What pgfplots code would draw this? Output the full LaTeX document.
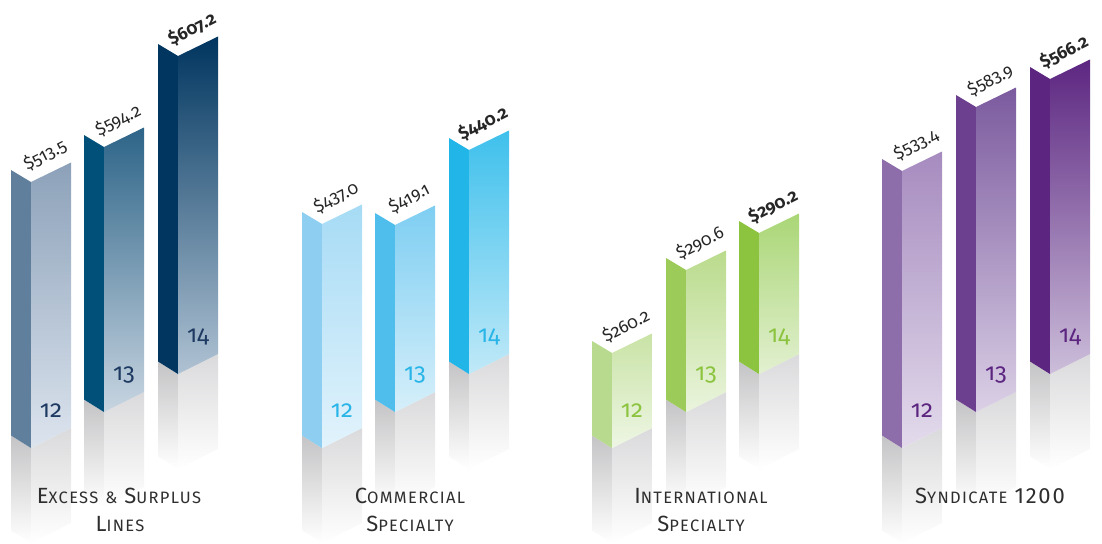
\documentclass[border=0pt]{standalone}
\usepackage{pgfplots}
\pgfplotsset{compat=1.18}
\usepackage{fontspec}
\setmainfont{Fira Sans}[Numbers=OldStyle]
\definecolor{EL1}{HTML}{5F7F9D}\definecolor{ET1}{HTML}{8CA1B9}\definecolor{EB1}{HTML}{DCE4EE}
\definecolor{EL2}{HTML}{00507A}\definecolor{ET2}{HTML}{2D6488}\definecolor{EB2}{HTML}{C8D5E1}
\definecolor{EL3}{HTML}{00365F}\definecolor{ET3}{HTML}{00355F}\definecolor{EB3}{HTML}{AFC2D3}
\definecolor{Eyear}{HTML}{1E3A62}
\definecolor{CL1}{HTML}{8DCEF1}\definecolor{CT1}{HTML}{A6DBF5}\definecolor{CB1}{HTML}{E2F3FC}
\definecolor{CL2}{HTML}{50BEEC}\definecolor{CT2}{HTML}{7ECEF2}\definecolor{CB2}{HTML}{D6EFFA}
\definecolor{CL3}{HTML}{22B5E8}\definecolor{CT3}{HTML}{3EC0EC}\definecolor{CB3}{HTML}{C0E9F8}
\definecolor{Cyear}{HTML}{2AB5E8}
\definecolor{IL1}{HTML}{B8DA8E}\definecolor{IT1}{HTML}{C9E3A6}\definecolor{IB1}{HTML}{EEF6E4}
\definecolor{IL2}{HTML}{9CCB5A}\definecolor{IT2}{HTML}{BADB8C}\definecolor{IB2}{HTML}{EAF4DD}
\definecolor{IL3}{HTML}{8CC43F}\definecolor{IT3}{HTML}{AAD676}\definecolor{IB3}{HTML}{E2F0D0}
\definecolor{Iyear}{HTML}{8CC43F}
\definecolor{SL1}{HTML}{8E6EAA}\definecolor{ST1}{HTML}{A68BBF}\definecolor{SB1}{HTML}{E3DBEC}
\definecolor{SL2}{HTML}{6C3F8F}\definecolor{ST2}{HTML}{7B5A9E}\definecolor{SB2}{HTML}{DBD0E6}
\definecolor{SL3}{HTML}{5B2580}\definecolor{ST3}{HTML}{5C2681}\definecolor{SB3}{HTML}{CCBEDA}
\definecolor{Syear}{HTML}{5B2580}
\definecolor{reflL}{HTML}{C4C4C6}\definecolor{reflF}{HTML}{DADADC}
\definecolor{cattext}{HTML}{2E2E2E}
% #1 cx (front-left x), #2 bottom y (pixels)
\newcommand\reflection[2]{%
 \pgfmathsetmacro\xa{#1-20}\pgfmathsetmacro\xc{#1+40}%
 \pgfmathsetmacro\ba{#2-12.5}\pgfmathsetmacro\bc{#2-20}%
 \pgfmathsetmacro\ea{#2-12.5+95}\pgfmathsetmacro\eb{#2+95}\pgfmathsetmacro\ec{#2-20+95}%
 \edef\tmp{\noexpand\addplot[draw=none,top color=reflL,bottom color=white,forget plot] coordinates {(\xa,\ba) (#1,#2) (#1,\eb) (\xa,\ea)};
 \noexpand\addplot[draw=none,top color=reflF,bottom color=white,forget plot] coordinates {(#1,#2) (\xc,\bc) (\xc,\ec) (#1,\eb)};}\tmp}
% #1 cx, #2 top y, #3 bottom y, #4 left colour, #5 front top colour, #6 front bottom colour
\newcommand\drawbar[6]{%
 \pgfmathsetmacro\xa{#1-20}\pgfmathsetmacro\xc{#1+40}%
 \pgfmathsetmacro\ta{#2-12}\pgfmathsetmacro\tc{#2-19.5}%
 \pgfmathsetmacro\ba{#3-12.5}\pgfmathsetmacro\bc{#3-20}%
 \edef\tmp{\noexpand\addplot[draw=none,fill=#4,forget plot] coordinates {(\xa,\ta) (#1,#2) (#1,#3) (\xa,\ba)};
 \noexpand\addplot[draw=none,top color=#5,bottom color=#6,forget plot] coordinates {(#1,#2) (\xc,\tc) (\xc,\bc) (#1,#3)};}\tmp}
% #1 cx, #2 top y, #3 bottom y, #4 value text, #5 year, #6 year colour
\newcommand\barlabels[6]{%
 \node[rotate=27,inner sep=0pt,font=\fontsize{17.5}{17.5}\selectfont,text=black!85] at (axis cs:{#1+14},{#2-27}) {#4};
 \node[inner sep=0pt,font=\fontsize{24}{24}\selectfont,text=#6] at (axis cs:{#1+20},{#3-37}) {#5};}
\newcommand\SC[2]{{\fontsize{22}{22}\selectfont #1}{\fontsize{16.5}{16.5}\selectfont #2}}
\newcommand\gap{\hspace{7pt}}
\begin{document}
\begin{tikzpicture}
\begin{axis}[width=1102pt,height=539pt,scale only axis,
  xmin=0,xmax=1102,ymin=0,ymax=539,y dir=reverse,hide axis,clip=false]
\addplot[draw=none,forget plot] coordinates {(0,0) (1102,539)};
% reflections
\reflection{31}{448}\reflection{104}{412}\reflection{178}{374}
\reflection{322}{448}\reflection{395}{412}\reflection{469}{374}
\reflection{612}{448}\reflection{686}{412}\reflection{759}{374}
\reflection{902}{448}\reflection{976}{412}\reflection{1050}{374}
% Excess & Surplus Lines: 513.5, 594.2, 607.2
\drawbar{31}{182}{448}{EL1}{ET1}{EB1}
\drawbar{104}{147}{412}{EL2}{ET2}{EB2}
\drawbar{178}{56}{374}{EL3}{ET3}{EB3}
% Commercial Specialty: 437.0, 419.1, 440.2
\drawbar{322}{224}{448}{CL1}{CT1}{CB1}
\drawbar{395}{225}{412}{CL2}{CT2}{CB2}
\drawbar{469}{150}{374}{CL3}{CT3}{CB3}
% International Specialty: 260.2, 290.6, 290.2
\drawbar{612}{353}{448}{IL1}{IT1}{IB1}
\drawbar{686}{270}{412}{IL2}{IT2}{IB2}
\drawbar{759}{233}{374}{IL3}{IT3}{IB3}
% Syndicate 1200: 533.4, 583.9, 566.2
\drawbar{902}{171}{448}{SL1}{ST1}{SB1}
\drawbar{976}{107}{412}{SL2}{ST2}{SB2}
\drawbar{1050}{79}{374}{SL3}{ST3}{SB3}
\barlabels{31}{182}{448}{\$513.5}{12}{Eyear}
\barlabels{104}{147}{412}{\$594.2}{13}{Eyear}
\barlabels{178}{56}{374}{\bfseries\$607.2}{14}{Eyear}
\barlabels{322}{224}{448}{\$437.0}{12}{Cyear}
\barlabels{395}{225}{412}{\$419.1}{13}{Cyear}
\barlabels{469}{150}{374}{\bfseries\$440.2}{14}{Cyear}
\barlabels{612}{353}{448}{\$260.2}{12}{Iyear}
\barlabels{686}{270}{412}{\$290.6}{13}{Iyear}
\barlabels{759}{233}{374}{\bfseries\$290.2}{14}{Iyear}
\barlabels{902}{171}{448}{\$533.4}{12}{Syear}
\barlabels{976}{107}{412}{\$583.9}{13}{Syear}
\barlabels{1050}{79}{374}{\bfseries\$566.2}{14}{Syear}
% category labels
\node[anchor=base,inner sep=0pt,text=cattext] at (axis cs:119,503) {\addfontfeature{LetterSpace=8}\SC{E}{XCESS}\gap\SC{}{\&}\gap\SC{S}{URPLUS}};
\node[anchor=base,inner sep=0pt,text=cattext] at (axis cs:120,531) {\addfontfeature{LetterSpace=8}\SC{L}{INES}};
\node[anchor=base,inner sep=0pt,text=cattext] at (axis cs:410,503) {\addfontfeature{LetterSpace=8}\SC{C}{OMMERCIAL}};
\node[anchor=base,inner sep=0pt,text=cattext] at (axis cs:410,531) {\addfontfeature{LetterSpace=8}\SC{S}{PECIALTY}};
\node[anchor=base,inner sep=0pt,text=cattext] at (axis cs:701,503) {\addfontfeature{LetterSpace=8}\SC{I}{NTERNATIONAL}};
\node[anchor=base,inner sep=0pt,text=cattext] at (axis cs:701,531) {\addfontfeature{LetterSpace=8}\SC{S}{PECIALTY}};
\node[anchor=base,inner sep=0pt,text=cattext] at (axis cs:990,503) {\addfontfeature{LetterSpace=8}\SC{S}{YNDICATE}\gap{\addfontfeature{Numbers=Lining}\fontsize{22}{22}\selectfont 1200}};
\end{axis}
\end{tikzpicture}
\end{document}
